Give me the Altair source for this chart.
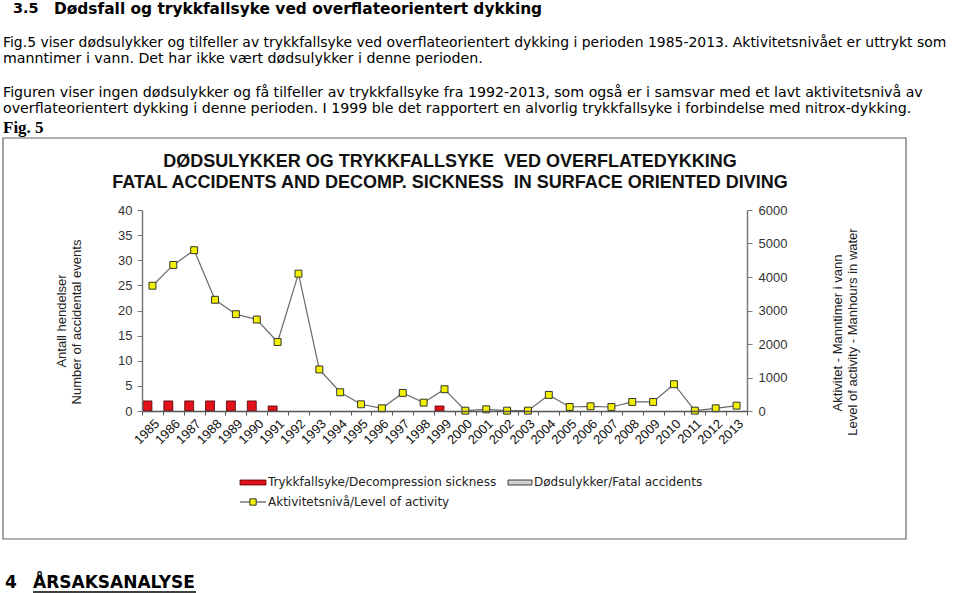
import altair as alt
import pandas as pd

# ---------------- data ----------------
years = [str(y) for y in range(1985, 2014)]
decompression = [2, 2, 2, 2, 2, 2, 1, 0, 0, 0, 0, 0, 0, 0, 1,
                 0, 0, 0, 0, 0, 0, 0, 0, 0, 0, 0, 0, 0, 0]
fatal = [0] * 29
activity = [3740, 4360, 4800, 3320, 2890, 2730, 2060, 4100, 1240, 560, 200, 80, 540, 250, 650,
            10, 50, 10, 10, 480, 120, 140, 120, 270, 270, 800, 10, 80, 160]
left_ticks = [0, 5, 10, 15, 20, 25, 30, 35, 40]
right_ticks = [0, 1000, 2000, 3000, 4000, 5000, 6000]
series_names = ["Trykkfallsyke/Decompression sickness", "Dødsulykker/Fatal accidents"]
line_name = "Aktivitetsnivå/Level of activity"

title_lines = ["DØDSULYKKER OG TRYKKFALLSYKE \u00a0VED OVERFLATEDYKKING",
               "FATAL ACCIDENTS AND DECOMP. SICKNESS \u00a0IN SURFACE ORIENTED DIVING"]
left_title = ["Antall hendelser", "Number of accidental events"]
right_title = ["Aktivitet - Manntimer i vann", "Level of activity - Manhours in water"]

heading_num = "3.5"
heading = "Dødsfall og trykkfallsyke ved overflateorientert dykking"
para = [
    "Fig.5 viser dødsulykker og tilfeller av trykkfallsyke ved overflateorientert dykking i perioden 1985-2013. Aktivitetsnivået er uttrykt som",
    "manntimer i vann. Det har ikke vært dødsulykker i denne perioden.",
    "Figuren viser ingen dødsulykker og få tilfeller av trykkfallsyke fra 1992-2013, som også er i samsvar med et lavt aktivitetsnivå av",
    "overflateorientert dykking i denne perioden. I 1999 ble det rapportert en alvorlig trykkfallsyke i forbindelse med nitrox-dykking.",
]
fig_label = "Fig. 5"
next_num = "4"
next_heading = "ÅRSAKSANALYSE"

# ---------------- layout ----------------
X0, Y0 = 142, 210          # plot-area origin on the page
W, H = 605, 201            # plot-area size
one = pd.DataFrame({"k": [0]})

AX = "Liberation Sans"
DOC = "DejaVu Sans"

bar_df = pd.DataFrame({
    "year": years * 2,
    "series": [series_names[0]] * len(years) + [series_names[1]] * len(years),
    "value": decompression + fatal,
})
act_df = pd.DataFrame({"year": years, "activity": activity})

xenc = alt.X(
    "year:N", sort=years,
    scale=alt.Scale(paddingInner=0, paddingOuter=0),
    axis=alt.Axis(title=None, labelAngle=-45, labelFont=AX, labelFontSize=13,
                  labelColor="#111", tickBand="extent", tickSize=4,
                  domainColor="#555", tickColor="#555", domainWidth=1.3,
                  labelPadding=2, zindex=1),
)

bars = alt.Chart(bar_df).transform_filter("datum.value > 0").mark_bar(
    stroke="#4a0000", strokeWidth=0.8
).encode(
    x=xenc,
    xOffset=alt.XOffset("series:N", sort=series_names,
                        scale=alt.Scale(domain=series_names, paddingInner=0.1, paddingOuter=0.1)),
    y=alt.Y("value:Q", scale=alt.Scale(domain=[0, 40]),
            axis=alt.Axis(title=None, values=left_ticks, grid=False, labelFont=AX,
                          labelFontSize=13, labelColor="#333", domainColor="#7a7a7a",
                          tickColor="#7a7a7a", domainWidth=1.5, tickSize=5, labelPadding=5,
                          zindex=1)),
    color=alt.Color("series:N", scale=alt.Scale(domain=series_names, range=["#e3121a", "#d0d0d0"]),
                    legend=None),
)

yright = alt.Y("activity:Q", scale=alt.Scale(domain=[0, 6000]),
               axis=alt.Axis(title=None, orient="right", values=right_ticks, grid=False,
                             format="d",
                             labelFont=AX, labelFontSize=13, labelColor="#333",
                             domainColor="#7a7a7a", tickColor="#7a7a7a", domainWidth=1.5,
                             tickSize=5, labelPadding=6, zindex=1))

line = alt.Chart(act_df).mark_line(color="#6a6a6a", strokeWidth=1.2).encode(x=xenc, y=yright)
points = alt.Chart(act_df).mark_point(
    shape="square", filled=True, size=48, fill="#f3f000", stroke="#333", strokeWidth=1, opacity=1
).encode(x=xenc, y=yright)
right = alt.layer(line, points)


def txt(s, ax, ay, size, weight="normal", font=DOC, color="#000", angle=0, align="left"):
    return alt.Chart(one).mark_text(
        text=s, align=align, baseline="middle", fontSize=size, fontWeight=weight,
        font=font, color=color, angle=angle
    ).encode(x=alt.value(ax - X0), y=alt.value(ay - Y0))


def box(x1, y1, x2, y2, fill, stroke, sw=1, fo=1):
    return alt.Chart(one).mark_rect(fill=fill, fillOpacity=fo, stroke=stroke, strokeWidth=sw).encode(
        x=alt.value(x1 - X0), x2=alt.value(x2 - X0), y=alt.value(y1 - Y0), y2=alt.value(y2 - Y0))


def hline(x1, x2, y, color, sw=1):
    return alt.Chart(one).mark_rule(color=color, strokeWidth=sw).encode(
        x=alt.value(x1 - X0), x2=alt.value(x2 - X0), y=alt.value(y - Y0))


frame = box(3, 138, 906, 539, "white", "#666", 1.2, 0)

texts = [
    txt(heading_num, 13, 9, 14.5, "bold"),
    txt(heading, 54, 9, 15.4, "bold"),
    txt(para[0], 3, 43, 13.95),
    txt(para[1], 3, 59, 14.2),
    txt(para[2], 3, 93, 14.2),
    txt(para[3], 3, 109, 14.2),
    txt(fig_label, 3, 128, 17, "bold", font="Liberation Serif"),
    txt(title_lines[0], 450, 162, 18, "bold", font=AX, color="#111", align="center"),
    txt(title_lines[1], 450, 183, 18, "bold", font=AX, color="#111", align="center"),
    txt(left_title[0], 62, 321, 13, font=AX, color="#222", angle=270, align="center"),
    txt(left_title[1], 77, 322, 13, font=AX, color="#222", angle=270, align="center"),
    txt(right_title[0], 838, 333, 13, font=AX, color="#222", angle=270, align="center"),
    txt(right_title[1], 853, 332, 13, font=AX, color="#222", angle=270, align="center"),
    # legend
    box(240, 480, 266, 485, "#e3121a", "#4a0000", 0.8),
    txt(series_names[0], 268, 482, 12, color="#222"),
    box(508, 480, 532, 485, "#d0d0d0", "#111", 0.8),
    txt(series_names[1], 534, 482, 12, color="#222"),
    hline(240, 266, 502, "#555", 1.2),
    alt.Chart(one).mark_point(shape="square", filled=True, size=40, fill="#f3f000",
                              stroke="#333", strokeWidth=1, opacity=1).encode(
        x=alt.value(253 - X0), y=alt.value(502 - Y0)),
    txt(line_name, 268, 502, 12, color="#222"),
    # next heading
    txt(next_num, 5, 583, 17, "bold"),
    txt(next_heading, 33, 583, 17, "bold"),
    hline(33, 196, 592, "#000", 1.5),
]

chart = alt.layer(frame, bars, right, *texts).resolve_scale(y="independent").properties(
    width=W, height=H,
    padding={"left": X0, "top": Y0, "right": 960 - X0 - W, "bottom": 593 - Y0 - H},
    autosize=alt.AutoSizeParams(type="none"),
    background="white",
).configure_view(stroke=None)

chart.save("out.html", embed_options={"renderer": "svg", "actions": False})
